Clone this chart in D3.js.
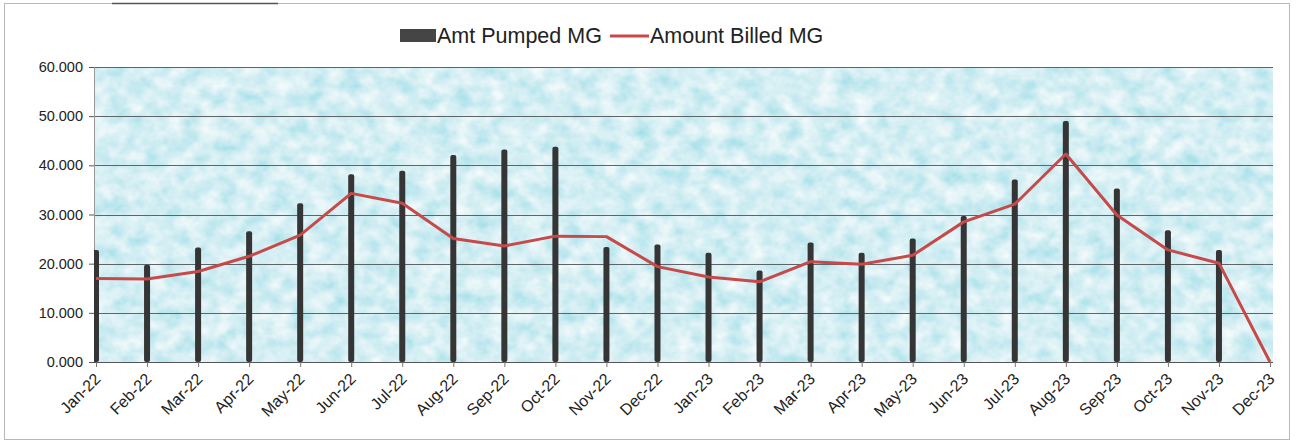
<!DOCTYPE html>
<html>
<head>
<meta charset="utf-8">
<script src="https://cdn.jsdelivr.net/npm/d3@7"></script>
<style>
  html, body { margin: 0; padding: 0; background: #ffffff; }
  svg { display: block; font-family: "Liberation Sans", Arial, sans-serif; }
</style>
</head>
<body>
<svg id="chart" width="1296" height="444"></svg>
<script>
// ---- data ----
const months = ["Jan-22","Feb-22","Mar-22","Apr-22","May-22","Jun-22","Jul-22","Aug-22","Sep-22","Oct-22","Nov-22","Dec-22",
                "Jan-23","Feb-23","Mar-23","Apr-23","May-23","Jun-23","Jul-23","Aug-23","Sep-23","Oct-23","Nov-23","Dec-23"];
const amtPumped = [22.8, 19.8, 23.3, 26.6, 32.3, 38.2, 38.9, 42.1, 43.2, 43.8, 23.4, 23.9,
                   22.2, 18.6, 24.3, 22.2, 25.1, 29.7, 37.1, 49.0, 35.3, 26.8, 22.8, 0];
const amountBilled = [17.0, 16.9, 18.4, 21.5, 25.8, 34.3, 32.3, 25.1, 23.6, 25.6, 25.5, 19.4,
                      17.3, 16.3, 20.4, 19.9, 21.7, 28.5, 32.1, 42.3, 29.9, 22.8, 20.1, 0];
const yTicks = [0, 10, 20, 30, 40, 50, 60];
const seriesNames = ["Amt Pumped MG", "Amount Billed MG"];

// ---- layout ----
const svg = d3.select("#chart");
const plot = { left: 94, right: 1273, top: 67, bottom: 362 };

// outer frame
svg.append("rect").attr("x", 4.5).attr("y", 3.5).attr("width", 1285).attr("height", 436)
  .attr("fill", "#ffffff").attr("stroke", "#b8b8b8").attr("stroke-width", 1);
svg.append("line").attr("x1", 112).attr("x2", 278).attr("y1", 3.5).attr("y2", 3.5)
  .attr("stroke", "#555").attr("stroke-width", 1.5);

// texture filter
const defs = svg.append("defs");
const f = defs.append("filter").attr("id", "water").attr("x", 0).attr("y", 0).attr("width", 1).attr("height", 1);
f.append("feTurbulence").attr("type", "fractalNoise").attr("baseFrequency", "0.055 0.065")
  .attr("numOctaves", 3).attr("seed", 7).attr("result", "noise");
f.append("feColorMatrix").attr("in", "noise").attr("type", "matrix")
  .attr("values", "0.7 0 0 0 0.31  0.28 0 0 0 0.72  0.2 0 0 0 0.8  0 0 0 0 1");
defs.append("clipPath").attr("id", "plotclip").append("rect")
  .attr("x", plot.left).attr("y", plot.top - 2).attr("width", plot.right - plot.left).attr("height", plot.bottom - plot.top + 2);

svg.append("rect").attr("x", plot.left).attr("y", plot.top)
  .attr("width", plot.right - plot.left).attr("height", plot.bottom - plot.top)
  .attr("fill", "#a9e0e8").attr("filter", "url(#water)");

// scales
const x = d3.scalePoint().domain(months).range([96, 1270]).padding(0);
const y = d3.scaleLinear().domain([0, 60]).range([plot.bottom, plot.top]);

// gridlines
svg.append("g").selectAll("line").data(yTicks.filter(d => d > 0)).join("line")
  .attr("x1", plot.left).attr("x2", plot.right)
  .attr("y1", d => Math.round(y(d)) + 0.5).attr("y2", d => Math.round(y(d)) + 0.5)
  .attr("stroke", "#5f6566").attr("stroke-width", 1.2);

// y axis
const yAxis = d3.axisLeft(y).tickValues(yTicks).tickFormat(d3.format(".3f")).tickSize(5).tickPadding(6);
const gy = svg.append("g").attr("transform", `translate(${plot.left},0)`).call(yAxis);
gy.attr("font-size", null).attr("font-family", null);
gy.select(".domain").attr("stroke", "#999");
gy.selectAll(".tick line").attr("stroke", "#555");
gy.selectAll("text").style("font-size", "14.5px").attr("fill", "#222");

// bars
const g = svg.append("g").attr("clip-path", "url(#plotclip)");
const bw = 6;
g.selectAll("rect.bar").data(months.map((m, i) => ({ m, v: amtPumped[i] })).filter(d => d.v > 0)).join("rect")
  .attr("class", "bar")
  .attr("x", d => x(d.m) - bw / 2).attr("width", bw)
  .attr("y", d => y(d.v)).attr("height", d => y(0) - y(d.v))
  .attr("rx", 2)
  .attr("fill", "#353535");

// line
const line = d3.line().x((d, i) => x(months[i])).y(d => y(d));
svg.append("path").datum(amountBilled).attr("d", line)
  .attr("fill", "none").attr("stroke", "#c64a4a").attr("stroke-width", 3)
  .attr("stroke-linejoin", "round");

// x axis
const xAxis = d3.axisBottom(x).tickSize(5).tickPadding(4);
const gx = svg.append("g").attr("transform", `translate(0,${plot.bottom})`).call(xAxis);
gx.attr("font-size", null).attr("font-family", null);
gx.select(".domain").attr("d", `M${plot.left},0.5H${plot.right}`).attr("stroke", "#555");
gx.selectAll(".tick line").attr("stroke", "#777");
gx.selectAll("text")
  .style("font-size", "16px").attr("fill", "#222")
  .attr("text-anchor", "end")
  .attr("transform", "translate(1,14) rotate(-45)")
  .attr("dy", "0.35em").attr("y", 0).attr("x", 0);

// legend
const lg = svg.append("g");
lg.append("rect").attr("x", 400).attr("y", 29).attr("width", 36).attr("height", 13).attr("fill", "#454545");
lg.append("text").attr("x", 437).attr("y", 43).style("font-size", "21.5px").attr("fill", "#222").text(seriesNames[0]);
lg.append("line").attr("x1", 610).attr("x2", 649).attr("y1", 36).attr("y2", 36)
  .attr("stroke", "#c64a4a").attr("stroke-width", 3);
lg.append("text").attr("x", 650).attr("y", 43).style("font-size", "21.5px").attr("fill", "#222").text(seriesNames[1]);
</script>
</body>
</html>
